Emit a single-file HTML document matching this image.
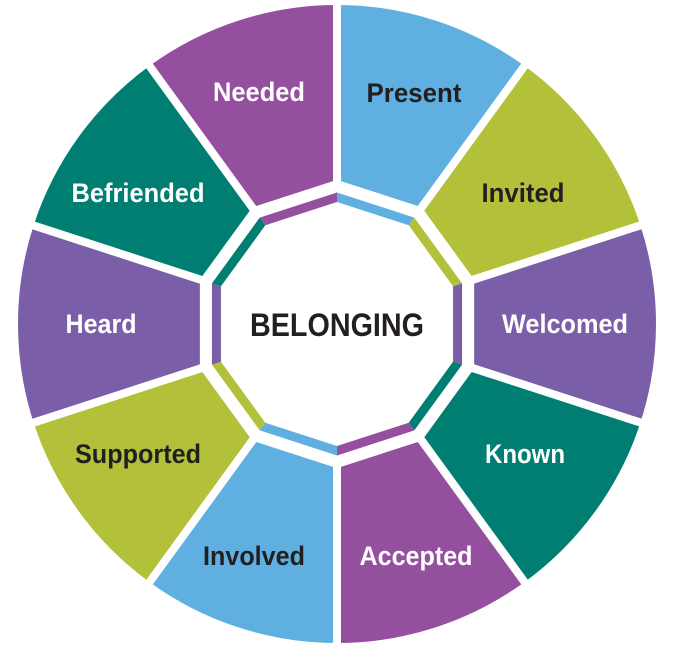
<!DOCTYPE html>
<html><head><meta charset="utf-8"><style>
html,body{margin:0;padding:0;background:#fff;width:674px;height:649px;overflow:hidden}
svg{display:block}
text{font-family:"Liberation Sans",sans-serif;font-weight:bold;text-anchor:middle}
</style></head><body>
<svg id="s" width="674" height="649" viewBox="0 0 674 649" xmlns="http://www.w3.org/2000/svg">
<g id="g"></g>
<text x="259" y="101" font-size="27" fill="#fff" textLength="92" lengthAdjust="spacingAndGlyphs">Needed</text>
<text x="414" y="102" font-size="27" fill="#231f20" textLength="95" lengthAdjust="spacingAndGlyphs">Present</text>
<text x="523" y="202" font-size="27" fill="#231f20" textLength="83" lengthAdjust="spacingAndGlyphs">Invited</text>
<text x="565" y="333" font-size="27" fill="#fff" textLength="126" lengthAdjust="spacingAndGlyphs">Welcomed</text>
<text x="525" y="463" font-size="27" fill="#fff" textLength="80" lengthAdjust="spacingAndGlyphs">Known</text>
<text x="416" y="565" font-size="27" fill="#fff" textLength="113" lengthAdjust="spacingAndGlyphs">Accepted</text>
<text x="254" y="565" font-size="27" fill="#231f20" textLength="102" lengthAdjust="spacingAndGlyphs">Involved</text>
<text x="138" y="463" font-size="27" fill="#231f20" textLength="126" lengthAdjust="spacingAndGlyphs">Supported</text>
<text x="101" y="333" font-size="27" fill="#fff" textLength="71" lengthAdjust="spacingAndGlyphs">Heard</text>
<text x="138" y="202" font-size="27" fill="#fff" textLength="133" lengthAdjust="spacingAndGlyphs">Befriended</text>
<text x="337" y="336" font-size="32" fill="#231f20" textLength="174" lengthAdjust="spacingAndGlyphs">BELONGING</text>
</svg>
<script>
(function(){
var cx=337,cy=324;
var cols=["#5fb0e0","#b3c13a","#7a5fa8","#017e72","#944f9e","#5fb0e0","#b3c13a","#7a5fa8","#017e72","#944f9e"];
function pt(r,a){var t=a*Math.PI/180;return [cx+r*Math.sin(t),cy-r*Math.cos(t)];}
var h="";
for(var i=0;i<10;i++){
 var a0=i*36,a1=a0+36,c=cols[i];
 var p0=pt(140,a0),p1=pt(140,a1),o0=pt(323,a0),o1=pt(323,a1);
 h+='<path d="M'+p0+' L'+o0+' A323 323 0 0 1 '+o1+' L'+p1+' Z" fill="'+c+'" stroke="#fff" stroke-width="8" stroke-linejoin="miter"/>';
 var b0=pt(131.5,a0),b1=pt(131.5,a1),c1=pt(122,a1),c0=pt(122,a0);
 h+='<path d="M'+b0+' L'+b1+' L'+c1+' L'+c0+' Z" fill="'+c+'"/>';
}
document.getElementById("g").innerHTML=h;
})();
</script>
</body></html>
